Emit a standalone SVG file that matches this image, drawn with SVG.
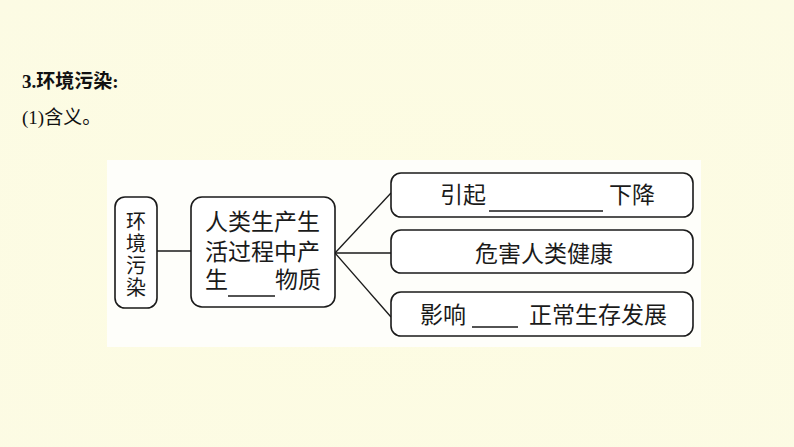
<svg xmlns="http://www.w3.org/2000/svg" width="794" height="447" viewBox="0 0 794 447">
<defs>
<radialGradient id="bg" cx="0.5" cy="0.55" r="0.75">
<stop offset="0" stop-color="#fdfce2"/>
<stop offset="1" stop-color="#fcfbe4"/>
</radialGradient>
<style>
.box{fill:#ffffff;stroke:#1a1a1a;stroke-width:1.6}
.ln{stroke:#1a1a1a;stroke-width:1.3;fill:none}
.t{font-family:"Liberation Sans","Noto Sans CJK SC",sans-serif;font-size:23px;fill:#1a1a1a}
.v{font-family:"Liberation Sans","Noto Sans CJK SC",sans-serif;font-size:20px;fill:#1a1a1a}
.h{font-family:"Liberation Serif","Noto Sans CJK SC",serif;font-size:19px;fill:#111}
</style>
</defs>
<rect width="794" height="447" fill="url(#bg)"/>
<text class="h" x="22" y="88" font-weight="bold">3.环境污染:</text>
<text class="h" x="22" y="124">(1)含义。</text>
<rect x="107" y="160" width="594" height="187" fill="#fefefa"/>
<g id="connectors">
<line class="ln" x1="157" y1="251" x2="191" y2="251"/>
<line class="ln" x1="335" y1="253" x2="391" y2="193"/>
<line class="ln" x1="335" y1="253" x2="391" y2="253"/>
<line class="ln" x1="335" y1="253" x2="391" y2="317"/>
</g>
<g id="n1">
<rect class="box" x="115" y="197" width="42" height="111" rx="10"/>
<text class="v" x="136" y="229" text-anchor="middle">环</text>
<text class="v" x="136" y="251" text-anchor="middle">境</text>
<text class="v" x="136" y="273" text-anchor="middle">污</text>
<text class="v" x="136" y="295" text-anchor="middle">染</text>
</g>
<g id="n2">
<rect class="box" x="191" y="197" width="144" height="110" rx="11"/>
<text class="t" x="205" y="230">人类生产生</text>
<text class="t" x="205" y="260">活过程中产</text>
<text class="t" x="205" y="288">生</text>
<text class="t" x="275" y="288">物质</text>
<line class="ln" x1="228" y1="296" x2="275" y2="296"/>
</g>
<g id="n3">
<rect class="box" x="391" y="173" width="302" height="44" rx="10"/>
<text class="t" x="440" y="203">引起</text>
<line class="ln" x1="489" y1="211" x2="603" y2="211"/>
<text class="t" x="609" y="203">下降</text>
</g>
<g id="n4">
<rect class="box" x="391" y="230" width="302" height="43" rx="10"/>
<text class="t" x="544" y="262" text-anchor="middle">危害人类健康</text>
</g>
<g id="n5">
<rect class="box" x="391" y="292" width="302" height="44" rx="10"/>
<text class="t" x="420" y="323">影响</text>
<line class="ln" x1="472" y1="327" x2="518" y2="327"/>
<text class="t" x="529" y="323">正常生存发展</text>
</g>
</svg>
